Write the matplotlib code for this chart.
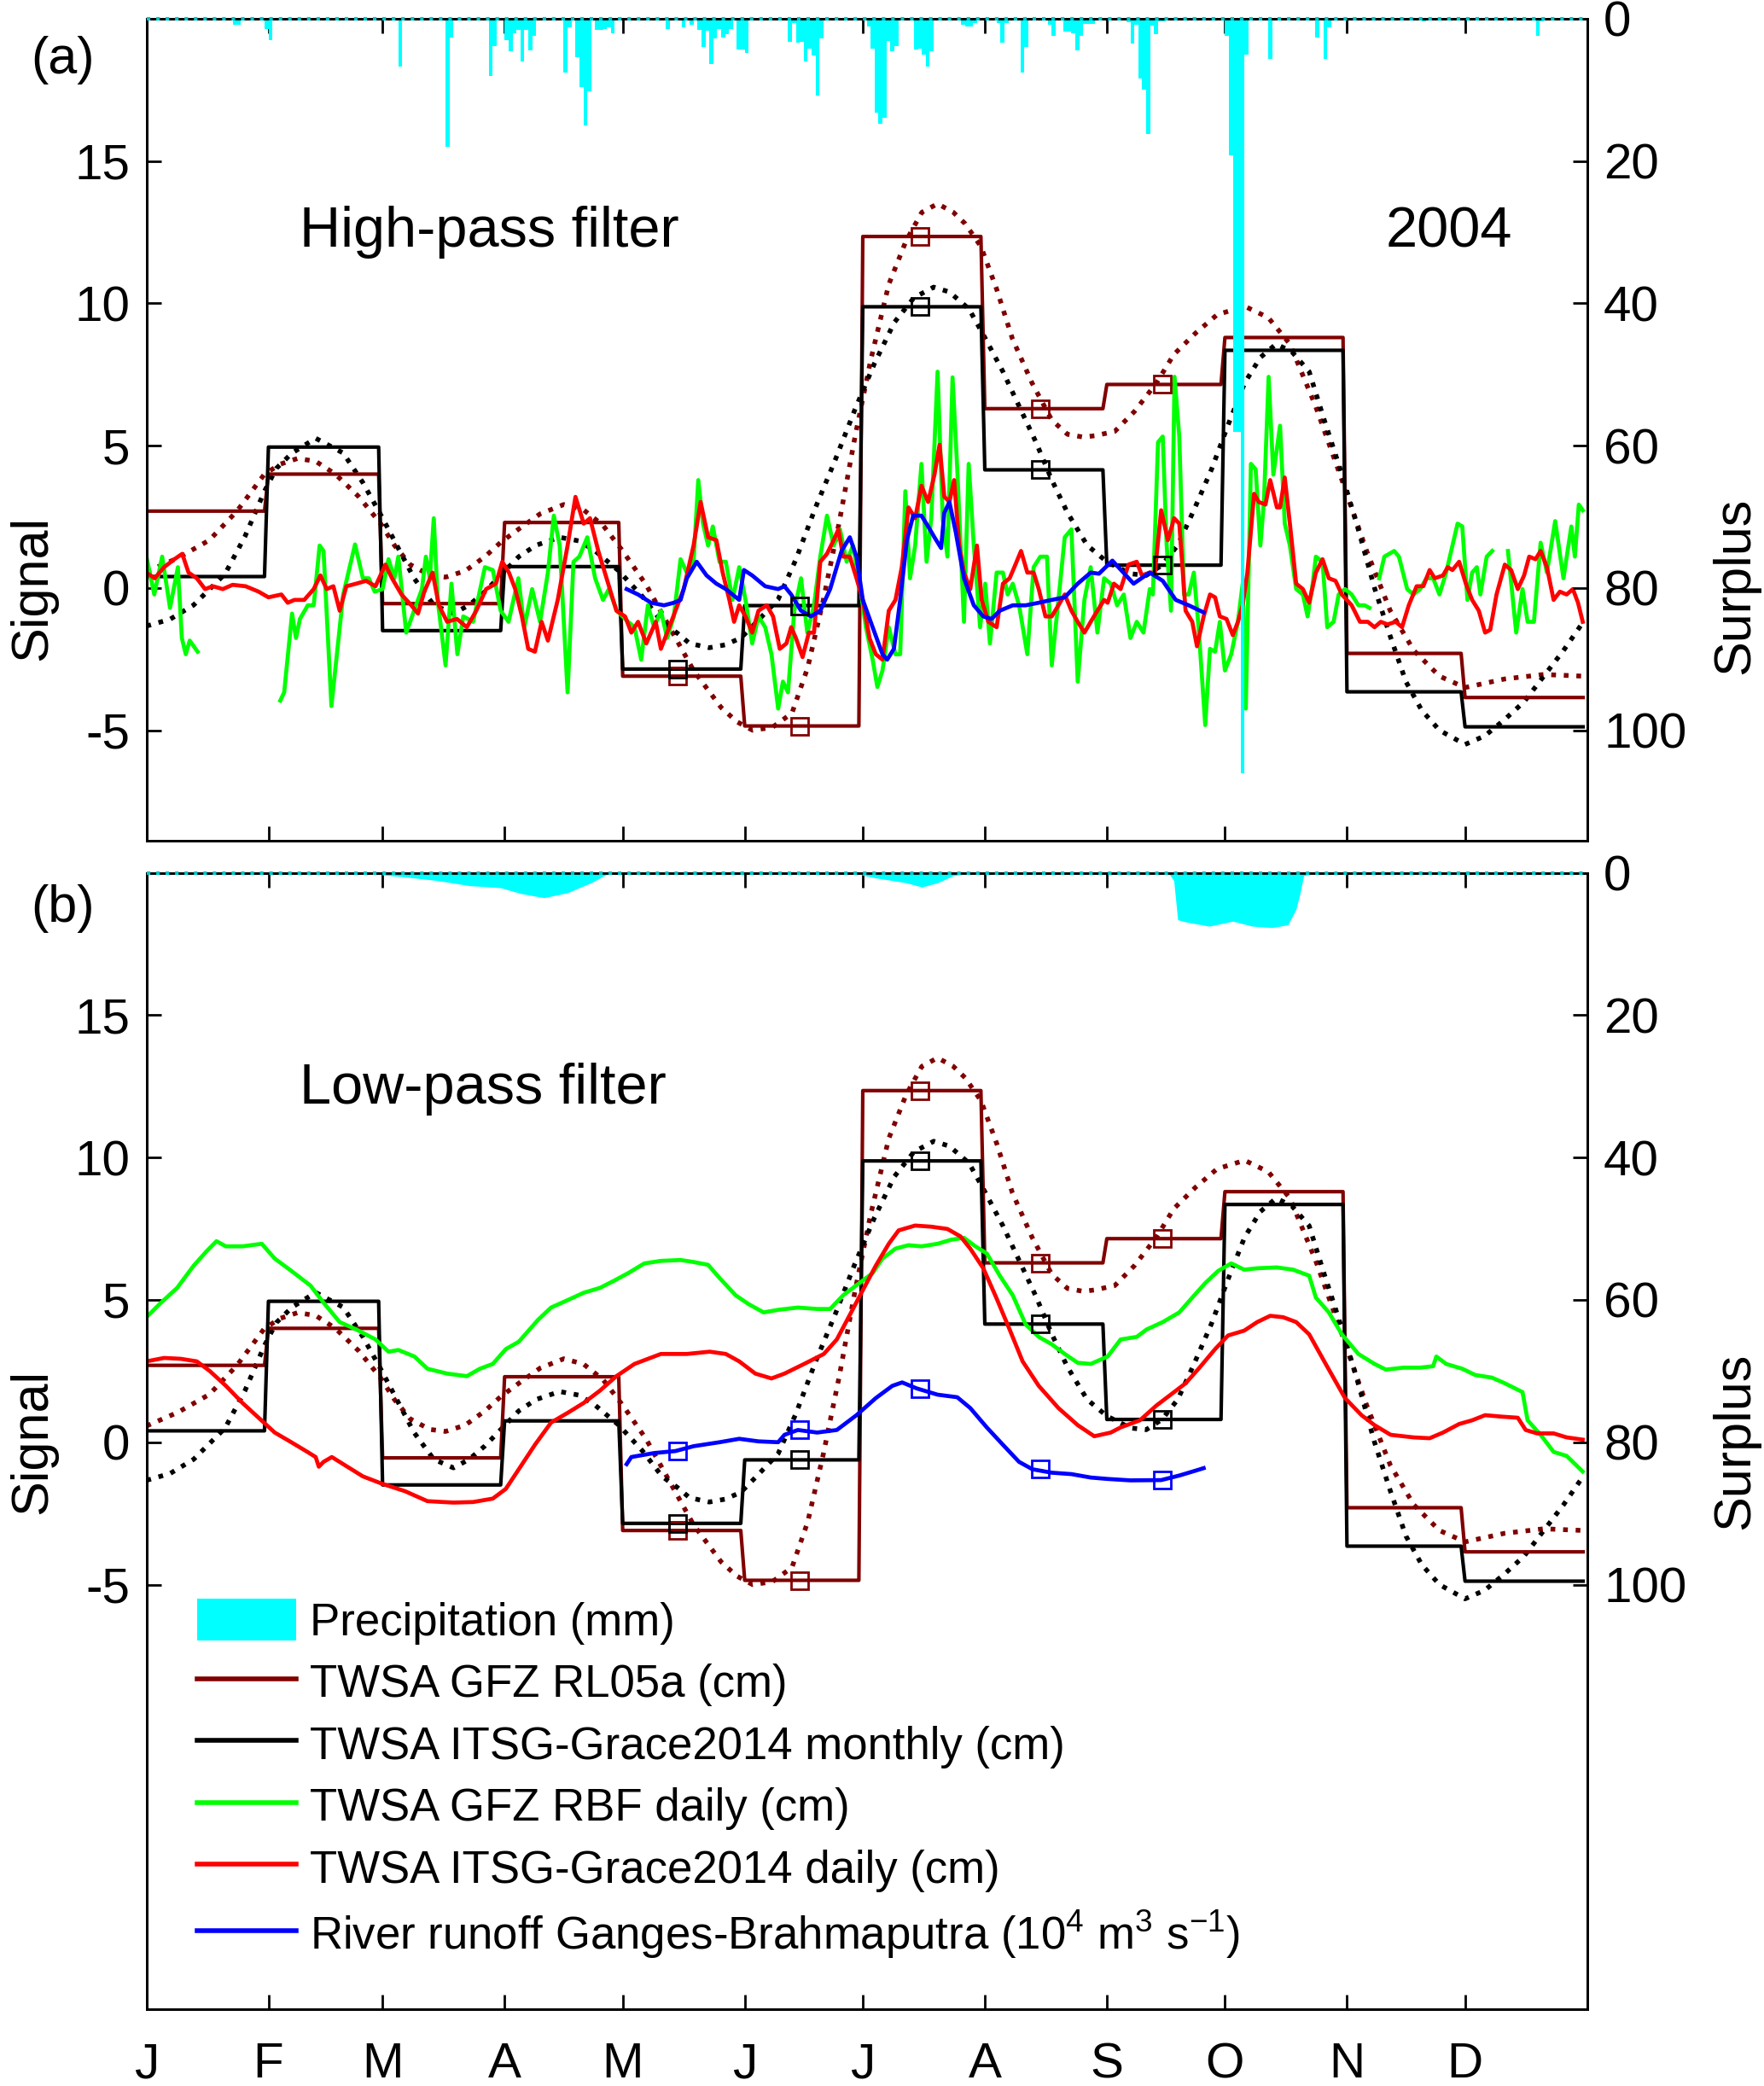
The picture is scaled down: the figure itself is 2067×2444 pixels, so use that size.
import numpy as np
import matplotlib.pyplot as plt
from matplotlib.patches import Patch
from matplotlib.lines import Line2D

plt.rcParams['font.family'] = ['Liberation Sans', 'DejaVu Sans']
plt.rcParams['axes.unicode_minus'] = False
plt.rcParams['mathtext.fontset'] = 'custom'
plt.rcParams['mathtext.rm'] = 'Liberation Sans'

# day of year (2004, leap year)
month_start = [0, 31, 60, 91, 121, 152, 182, 213, 244, 274, 305, 335, 366]
month_labels = ['J', 'F', 'M', 'A', 'M', 'J', 'J', 'A', 'S', 'O', 'N', 'D']

# monthly solutions (cm)
gfz_monthly = [2.7, 4.0, -0.55, 2.3, -3.1, -4.85, 12.35, 6.3, 7.15, 8.8, -2.3, -3.85]
itsg_monthly = [0.4, 4.95, -1.5, 0.75, -2.85, -0.62, 9.88, 4.15, 0.8, 8.35, -3.65, -4.88]

# months with markers (May..Sep) and their mid-month days
marker_months = [4, 5, 6, 7, 8]
marker_days = [135, 166, 196.5, 227, 258]
runoff_monthly = [-0.31, 0.43, 1.89, -0.95, -1.33]

# smooth curves through monthly values
gfz_smooth = [(0, 0.57), (8, 1.05), (16, 1.68), (23, 2.7), (30, 4.0), (34, 4.35), (38.4, 4.55),
              (43, 4.45), (48, 4.0), (54, 3.2), (59.5, 2.26), (63, 1.5), (67, 0.82), (72, 0.45),
              (76, 0.38), (81, 0.6), (86, 1.1), (90, 1.6), (94.6, 2.07), (100, 2.6), (106, 2.93),
              (111, 2.75), (116, 2.2), (121, 1.3), (127, 0.1), (133, -1.4), (139, -2.9),
              (146, -4.2), (150, -4.7), (154, -5.0), (159, -4.9), (164, -4.4), (168, -2.8),
              (172, -0.4), (176, 2.3), (180, 5.3), (184, 8.0), (188.6, 10.67), (193, 12.2),
              (197, 13.2), (201, 13.5), (205, 13.2), (208, 12.8), (212, 12.0), (216, 10.5),
              (220, 8.76), (225, 7.2), (230, 5.9), (234, 5.4), (238, 5.3), (241, 5.35),
              (246, 5.5), (251, 6.2), (256.6, 7.2), (261, 8.2), (266.5, 8.95), (272, 9.6),
              (279, 9.9), (285, 9.5), (290.5, 8.57), (297, 6.4), (303.7, 3.8), (310, 1.3),
              (316, -0.8), (322, -2.2), (328.5, -3.1), (335, -3.5), (345, -3.2), (355, -3.04),
              (365, -3.1)]
itsg_smooth = [(0, -1.34), (6, -1.1), (12, -0.6), (20, 0.5), (25, 1.8), (30, 3.4), (33, 4.2),
               (37, 4.74), (43, 5.26), (50, 4.74), (55, 3.7), (60, 2.45), (68, 0.34), (73, -0.6),
               (78, -0.9), (82, -0.6), (86, -0.13), (94.6, 1.1), (99, 1.5), (105, 1.78),
               (110, 1.65), (114, 1.3), (120, 0.6), (126, -0.3), (131, -1.2), (135, -1.6),
               (138, -1.95), (143, -2.1), (147, -2.0), (151, -1.76), (155, -1.2), (160.5, -0.4),
               (165, 1.0), (170, 2.83), (175, 4.5), (180, 6.27), (185, 7.9), (190, 9.33),
               (195, 10.2), (200, 10.57), (204, 10.4), (209, 9.8), (213, 8.8), (217.6, 7.6),
               (222, 6.3), (226, 5.12), (230, 3.8), (234, 2.64), (239, 1.5), (244, 0.92),
               (250, 0.5), (254, 0.44), (258, 0.8), (262, 1.5), (266, 2.7), (270.6, 4.17),
               (275, 5.8), (279, 7.2), (283, 8.1), (287, 8.57), (291, 8.3), (295.4, 7.6),
               (299, 6.0), (303.7, 4.0), (308, 2.0), (312, 0.0), (316, -1.7), (320, -3.3),
               (324, -4.3), (328.5, -5.0), (335, -5.5), (340, -5.2), (345, -4.63), (350, -4.0),
               (355, -3.1), (360, -2.2), (365, -1.2)]

# high-pass filtered daily series (cm)
green_hp = [(0, 1.1), (2, -0.23), (4, 1.1), (6, -0.7), (8, 0.73), (9, -1.76), (10, -2.33),
            (11, -1.85), (13, -2.24), (np.nan, np.nan),
            (34, -3.96), (35, -3.67), (37, -0.9), (38, -1.76), (39, -1.09), (41, -0.61),
            (42.5, -0.61), (44, 1.49), (45, 1.3), (47, -4.15), (50, -0.23), (53, 1.53),
            (55, 0.34), (56.5, 0.34), (58, -0.13), (60, -0.04), (61.5, 1.01), (63, 0.34),
            (64, 1.1), (66, -1.57), (68, -0.8), (70, -0.04), (71, 1.1), (72, 0.34), (73, 2.45),
            (74, -0.42), (76, -2.72), (77.5, 0.15), (79, -2.33), (80.5, -1.0), (83, -1.19),
            (86, 0.73), (88, 0.63), (90, -0.8), (92, -1.19), (94.5, 0.34), (96, -1.38),
            (98, -0.04), (100, -1.19), (102, 0.54), (103.5, 2.54), (105, 1.49), (107, -3.67),
            (108.5, 0.92), (110, 1.1), (112, 1.78), (114, 0.34), (116, -0.42), (117.5, -0.04),
            (119.5, -0.8), (122.4, -1.19), (124, -1.38), (125.7, -2.52), (127.4, -0.61),
            (129, -1.38), (130.7, -0.8), (132.3, -1.76), (134, -1.0), (135.7, 1.01),
            (137.3, 0.54), (139, 0.92), (140.2, 3.79), (141.4, 2.26), (142.7, 1.49),
            (143.9, 2.16), (145.6, 0.92), (147.2, 0.92), (148.9, -0.42), (150.6, 0.73),
            (152.2, -0.42), (153.9, -1.95), (155.5, -1.0), (157.2, -1.38), (158.8, -2.33),
            (160.5, -4.24), (161.7, -3.29), (163, -3.67), (164.6, -0.8), (166.3, 0.34),
            (167.9, -1.57), (169.6, -0.61), (171.2, 1.1), (172.9, 2.54), (174.6, 1.49),
            (176.2, 2.06), (177.9, 0.92), (179.5, 1.49), (181.2, 0.15), (182.8, -1.38),
            (184.5, -2.52), (185.7, -3.48), (187, -2.9), (188.6, -1.38), (190.3, -2.33),
            (191.5, -2.33), (192.8, 3.4), (194, 0.34), (195.3, 1.49), (196.9, 4.36),
            (198.2, 0.92), (199.4, 2.45), (201, 7.6), (202.3, 2.45), (203.5, 1.1),
            (204.8, 7.4), (206, 4.17), (207.7, -1.19), (208.9, 4.36), (210.2, 1.49),
            (211.8, -1.38), (213.1, 0.15), (214.3, -1.95), (216, 0.54), (217.6, 0.54),
            (218.8, -0.23), (220.1, 0.15), (221.7, -0.61), (223.8, -2.33), (225.4, 0.73),
            (227.1, 1.1), (228.8, 1.1), (230, -2.72), (231.7, -0.42), (233.3, 1.78),
            (235, 2.06), (236.6, -3.29), (238.3, -0.42), (239.9, 0.73), (241.6, -1.57),
            (243.3, 0.34), (245, 0.15), (246.6, -0.61), (248.3, -0.23), (250, -1.76),
            (251.6, -1.19), (253.3, -1.57), (254.9, -0.04), (255.7, -0.23), (257, 5.12),
            (258.2, 5.32), (259.2, 1.49), (260.3, -0.8), (261.2, 7.42), (262.4, 5.32),
            (263.6, -0.23), (264.8, -0.23), (266.1, 0.54), (267.3, -1.38), (269, -4.82),
            (270.2, -2.14), (271.5, -2.24), (272.7, -1.19), (274, -2.9), (275.6, -2.33),
            (277.3, -1.19), (278.5, 0.15), (279.3, -4.24), (280.6, 4.36), (281.8, 4.17),
            (283, 1.49), (283.9, 3.02), (285.1, 7.42), (286.3, 3.98), (288, 5.7),
            (289.2, 2.26), (290.5, 1.49), (292.1, -0.04), (293.8, -0.23), (295, -1.0),
            (296.3, 0.15), (297.1, 1.1), (298.8, 0.92), (300, -1.38), (301.6, -1.19),
            (302.9, -0.23), (304.5, -0.04), (306.2, -0.23), (307.9, -0.61), (309.5, -0.61),
            (310.7, -0.7), (np.nan, np.nan),
            (313.2, 0.34), (314.5, 1.1), (317, 1.3), (318.2, 1.1), (320.3, -0.04),
            (321.9, -0.23), (323.6, -0.04), (325.2, 0.34), (326.9, 0.34), (328.5, -0.23),
            (330.2, 0.54), (331.8, 1.49), (333.1, 2.26), (334.3, 2.16), (335.6, -0.42),
            (336.8, 0.54), (338, 0.73), (338.9, -0.23), (340.5, 1.1), (341.9, 1.3),
            (np.nan, np.nan),
            (345.9, 1.3), (348, -1.57), (349.6, -0.04), (350.9, -1.19), (352.5, -1.19),
            (354.2, 1.59), (355.8, 0.54), (357.9, 2.35), (360, 0.34), (362, 2.16),
            (362.9, 1.1), (363.9, 2.93), (364.9, 2.73)]

red_hp = [(0, 0.54), (2.1, 0.34), (4.5, 0.73), (7, 1.0), (9.1, 1.2), (10.7, 0.54), (12.8, 0.34),
          (14.9, -0.04), (16.9, 0.06), (19.4, -0.04), (21.9, 0.11), (25.2, 0.06), (28.5, -0.13),
          (31, -0.33), (34.3, -0.23), (35.9, -0.52), (37.6, -0.42), (40.1, -0.42), (42.5, -0.04),
          (44.2, 0.44), (45.8, -0.04), (47.5, 0.06), (49.1, -0.8), (50.8, 0.06), (53.3, 0.15),
          (55.8, 0.25), (58.2, 0.06), (60.7, 0.82), (62.4, 0.34), (64.8, -0.23), (67.3, -0.61),
          (69, -0.9), (70.6, -0.13), (72.7, 0.54), (74.3, -0.61), (76.4, -1.19), (78.9, -1.09),
          (81.4, -1.38), (83.8, -0.8), (86.3, -0.04), (88.8, 0.15), (90.4, 0.92), (92.1, 0.54),
          (93.7, -0.04), (95.4, -1.0), (97, -2.14), (98.7, -2.24), (100.4, -1.19), (102, -1.85),
          (104.5, -0.42), (107, 1.49), (109, 3.2), (111.1, 2.26), (112.7, 2.45), (114.8, 1.3),
          (116.9, 0.34), (119.4, -0.8), (121.6, -1.0), (123.2, -1.57), (124.9, -1.19),
          (127, -1.95), (129.4, -1.19), (130.7, -2.14), (132.3, -1.57), (134.4, -0.8),
          (136.5, -0.04), (139, 1.49), (140.8, 3.02), (142.7, 1.78), (144.8, 1.68),
          (146.4, 0.54), (148.1, -0.42), (149.3, -1.19), (150.6, -0.61), (152.2, -1.0),
          (153.9, -1.57), (155.5, -0.8), (157.6, -0.61), (159.2, -1.0), (160.9, -2.14),
          (162.6, -1.95), (163.8, -1.38), (165, -1.76), (166.7, -2.43), (168.3, -1.57),
          (169.6, -1.57), (171.2, 0.92), (172.9, 1.2), (174.6, 1.68), (175.8, 2.06),
          (177, 1.1), (178.7, 1.1), (180.4, 0.34), (182, -0.42), (183.7, -1.76),
          (185.3, -2.33), (187, -2.52), (188.6, -0.8), (190.3, -0.42), (191.9, 0.73),
          (193.6, 2.83), (195.3, 2.45), (196.9, 3.59), (198.6, 3.02), (200.2, 3.98),
          (201.5, 5.03), (202.7, 3.21), (204, 3.02), (205.2, 3.79), (206.5, 1.49),
          (207.7, 0.54), (209.3, -0.04), (211, 1.49), (212.2, -0.42), (213.9, -1.19),
          (216, -1.38), (217.6, 0.15), (219.3, 0.34), (220.5, 0.73), (222.2, 1.3),
          (223.8, 0.54), (225.4, 0.54), (226.7, -0.04), (228.4, -1.0), (230, -1.0),
          (231.7, -0.61), (233.3, -0.23), (235, -0.8), (236.6, -1.19), (238.3, -1.57),
          (239.9, -1.19), (241.6, -0.8), (243.3, -0.42), (244.2, -0.52), (245.8, 0.15),
          (247.5, -0.04), (249.5, 0.82), (251.6, 0.92), (252.9, 0.44), (254.9, 0.54),
          (256.2, 0.54), (257.8, 2.73), (259.5, 1.68), (261.1, 2.45), (262.4, 2.26),
          (264, -0.8), (265.7, -1.19), (266.9, -2.05), (268.6, -1.0), (270.2, -0.23),
          (271.5, -0.33), (272.7, -1.0), (274.4, -1.09), (276, -1.66), (277.3, -1.19),
          (278.5, -0.61), (279.7, 0.54), (281.4, 3.31), (282.6, 3.02), (284.3, 2.93),
          (285.5, 3.79), (287.2, 2.83), (288, 2.83), (289.2, 3.88), (290.5, 2.26),
          (292.1, 0.15), (293.8, -0.04), (295.4, -0.52), (297.1, 0.54), (298.8, 1.01),
          (300.4, 0.34), (302.1, 0.25), (303.7, -0.23), (306.2, -0.61), (308.3, -1.19),
          (310.3, -1.19), (312, -1.38), (313.6, -1.19), (315.3, -1.28), (317.4, -1.19),
          (319, -1.38), (320.7, -0.61), (322.7, 0.06), (324.4, 0.06), (326, 0.63),
          (327.3, 0.34), (329.4, 0.44), (330.6, 0.73), (331.8, 0.63), (333.5, 0.92),
          (335.2, 0.15), (336.8, -0.42), (338.5, -0.8), (340.1, -1.57), (341.4, -1.47),
          (343, -0.23), (345.1, 0.82), (346.7, 0.63), (348.4, -0.04), (350, 0.44),
          (351.3, 1.1), (352.9, 1.01), (354.2, 1.3), (355.8, 0.73), (357.5, -0.42),
          (359.1, -0.13), (360.8, -0.23), (362.4, -0.04), (363.7, -0.52), (364.9, -1.19)]

blue_hp = [(122, -0.04), (124.9, -0.23), (128.2, -0.52), (131.5, -0.61), (134, -0.52),
           (135.7, -0.42), (137.3, 0.34), (139.8, 0.92), (142.3, 0.44), (144.8, 0.15),
           (147.2, -0.04), (150.6, -0.42), (151.8, 0.63), (153.9, 0.44), (157.2, 0.06),
           (160.5, -0.04), (162.1, 0.06), (163.8, -0.23), (166.3, -0.8), (168.8, -1.0),
           (171.2, -0.8), (173.7, -0.04), (176.6, 1.3), (178.7, 1.78), (180.4, 1.1),
           (182, -0.42), (184.5, -1.38), (187, -2.33), (188.2, -2.52), (189.9, -2.14),
           (191.5, -0.42), (193.2, 1.68), (194.8, 2.54), (196.9, 2.54), (198.6, 2.16),
           (200.2, 1.78), (201.9, 1.4), (202.7, 2.64), (204, 3.02), (205.6, 1.97),
           (207.7, 0.34), (210.2, -0.61), (212.6, -1.0), (214.7, -1.09), (216.8, -0.8),
           (220.1, -0.61), (223.4, -0.61), (226.7, -0.52), (230, -0.42), (233.3, -0.33),
           (236.6, 0.15), (239.9, 0.54), (242, 0.5), (245.4, 0.96), (250.8, 0.15),
           (254.9, 0.54), (258.2, 0.25), (261.5, -0.42), (264.8, -0.61), (268.6, -0.86)]

# low-pass filtered daily series (cm)
green_lp = [(0, 4.39), (3.7, 4.9), (7.8, 5.42), (12, 6.2), (15.3, 6.71), (17.8, 7.06),
            (20.2, 6.88), (24.4, 6.88), (29.3, 6.97), (32.6, 6.45), (36.8, 6.02), (41.7, 5.5),
            (45, 4.9), (49.1, 4.22), (53.3, 3.96), (58.2, 3.61), (61.5, 3.18), (64, 3.24),
            (68.1, 3.01), (71.4, 2.58), (76.4, 2.41), (81.4, 2.32), (84.7, 2.58), (88, 2.75),
            (91.3, 3.27), (94.6, 3.53), (99.5, 4.3), (102.8, 4.73), (107, 4.99), (111.1, 5.25),
            (115.2, 5.42), (118.5, 5.65), (122.4, 5.94), (126.5, 6.28), (130.7, 6.37),
            (135.7, 6.4), (139, 6.33), (142.7, 6.23), (145.6, 5.77), (149.7, 5.16), (153, 4.85),
            (156.8, 4.56), (160.5, 4.65), (165.5, 4.73), (170.4, 4.68), (173.7, 4.68),
            (177, 5.16), (179.5, 5.42), (182, 5.68), (184.5, 5.94), (187, 6.45), (190.3, 6.8),
            (193.6, 6.92), (196.9, 6.88), (201, 6.97), (204.4, 7.11), (207.7, 7.18),
            (210.6, 6.88), (213.5, 6.63), (216.8, 5.85), (220.1, 5.16), (223.4, 4.13),
            (226.7, 3.7), (230, 3.44), (233.3, 3.1), (236.6, 2.79), (239.9, 2.75),
            (244.2, 3.01), (247.5, 3.61), (251.6, 3.7), (254.1, 3.96), (258.2, 4.22),
            (262.4, 4.56), (265.7, 5.08), (269, 5.59), (272.3, 6.02), (275.6, 6.28),
            (278.9, 6.06), (282.2, 6.11), (287.2, 6.14), (291.3, 6.06), (295.4, 5.85),
            (297.1, 5.08), (300.4, 4.56), (303.7, 3.79), (307.9, 3.1), (312, 2.75),
            (314.9, 2.55), (319.4, 2.62), (323.6, 2.62), (326.9, 2.67), (327.7, 3.01),
            (330.2, 2.75), (334.3, 2.58), (337.6, 2.36), (341.8, 2.27), (345.1, 2.07),
            (349.6, 1.76), (350.9, 0.77), (354.2, 0.26), (357.5, -0.34), (360.8, -0.48),
            (364.9, -1.03)]

red_lp = [(0, 2.84), (4.5, 2.96), (8.7, 2.93), (12.8, 2.84), (16.1, 2.5), (20.2, 1.98),
          (24.4, 1.38), (28.5, 0.86), (32.6, 0.34), (36.8, 0.0), (40.9, -0.34), (43, -0.52),
          (43.8, -0.86), (45, -0.69), (47.1, -0.52), (50, -0.77), (55, -1.2), (59.9, -1.46),
          (65.7, -1.72), (71.4, -2.07), (78, -2.12), (83, -2.1), (88, -1.98), (91.3, -1.64),
          (94.6, -0.95), (98.7, -0.09), (102.8, 0.69), (107, 1.03), (111.1, 1.38),
          (115.2, 1.81), (119.4, 2.32), (124, 2.75), (130.7, 3.1), (137.3, 3.1),
          (143.1, 3.18), (147.2, 3.1), (150.6, 2.84), (154.7, 2.41), (158.8, 2.24),
          (162.1, 2.41), (167.1, 2.75), (172.1, 3.1), (175.4, 3.61), (178.7, 4.47),
          (182, 5.34), (185.3, 6.2), (188.6, 6.97), (191.1, 7.44), (195.3, 7.61),
          (199.4, 7.57), (203.5, 7.49), (206.8, 7.23), (209.3, 6.8), (212.6, 6.11),
          (215.9, 5.08), (219.3, 3.96), (222.6, 2.84), (226.7, 1.98), (231.7, 1.2),
          (236.6, 0.6), (240.8, 0.21), (245, 0.34), (247.5, 0.52), (252.4, 0.77),
          (256.6, 1.29), (260.7, 1.72), (264, 2.07), (267.3, 2.58), (271.5, 3.27),
          (274.8, 3.75), (278.9, 3.92), (282.2, 4.22), (285.5, 4.44), (288.8, 4.39),
          (292.1, 4.22), (295.4, 3.79), (299.6, 2.75), (304.5, 1.55), (308.7, 0.95),
          (312, 0.6), (316.1, 0.26), (321.9, 0.17), (326, 0.14), (329.4, 0.34),
          (333.5, 0.64), (336.8, 0.77), (340.1, 0.95), (344.2, 0.9), (348.4, 0.86),
          (350.4, 0.43), (353.3, 0.31), (357.5, 0.31), (360.8, 0.17), (364.9, 0.09)]

blue_lp = [(122, -0.77), (123.2, -0.52), (129, -0.38), (134.4, -0.31), (139, -0.14),
           (145.6, 0.0), (150.6, 0.12), (155.5, 0.03), (160.5, 0.0), (162.1, 0.26),
           (165.5, 0.43), (170.4, 0.34), (175.4, 0.43), (180.4, 0.95), (185.3, 1.55),
           (189.5, 1.98), (192, 2.1), (195.7, 1.89), (201, 1.67), (206, 1.58), (209.3, 1.2),
           (213.5, 0.52), (217.6, -0.09), (221.7, -0.69), (225.1, -0.95), (230, -1.07),
           (235, -1.12), (239.9, -1.24), (244.2, -1.29), (250, -1.34), (257.8, -1.33),
           (262.4, -1.17), (266.5, -1.0), (268.6, -0.91)]

# daily precipitation (mm), panel a
precip_days = [22, 23, 30, 31, 49, 50, 64, 76, 77, 87, 88, 91, 92, 93, 94, 95, 96, 97, 98,
               106, 107, 109, 110, 111, 112, 114, 115, 116, 117, 118, 132, 136, 138,
               140, 141, 142, 143, 144, 145, 146, 147, 148, 150, 151, 152,
               163, 164, 165, 166, 167, 168, 169, 170, 171,
               183, 184, 185, 186, 187, 188, 189, 190, 195, 196, 197, 198, 199,
               207, 208, 209, 210, 216, 217, 218, 222, 223, 229, 230,
               233, 234, 235, 236, 237, 238, 239, 240,
               249, 250, 251, 252, 253, 254, 255, 256, 257, 258,
               274, 275, 276, 277, 278, 279, 285, 297, 298, 299, 300, 324, 330, 353, 354]
precip_mm = [0.8, 0.8, 1.4, 3.0, 0.3, 0.3, 6.7, 18.0, 2.6, 8.0, 3.8, 3.0, 4.5, 2.0, 1.5, 6.0,
             1.6, 4.4, 2.4, 7.5, 1.2, 5.4, 9.6, 15.0, 10.2, 1.6, 1.6, 1.4, 1.2, 2.0, 1.4, 1.2,
             0.8, 1.6, 4.0, 1.7, 6.3, 2.8, 1.4, 2.6, 2.2, 1.4, 4.3, 4.3, 4.8,
             3.2, 0.6, 3.4, 3.2, 6.0, 4.2, 5.2, 10.8, 2.7,
             1.1, 4.2, 13.2, 14.8, 13.9, 3.1, 4.6, 3.8, 4.3, 4.2, 5.0, 6.7, 4.6,
             0.9, 1.1, 1.1, 0.6, 0.6, 3.4, 0.6, 7.6, 3.9, 0.8, 2.4,
             1.8, 1.8, 2.0, 4.4, 2.4, 0.7, 0.7, 0.7,
             0.5, 3.5, 0.8, 8.4, 10.0, 16.2, 1.0, 2.2, 0.4, 0.4,
             2.4, 19.2, 58.0, 58.0, 106.0, 5.0, 5.6, 2.6, 0.2, 5.6, 1.2, 0.4, 0.2, 2.4, 0.4]

# low-pass precipitation (mm), panel b
precip_lp_days = [0, 59, 60, 66, 74, 82, 90, 95, 101, 107, 113, 117, 118, 179, 181, 185, 193,
                  197, 201, 205, 210, 259, 260, 261, 262, 264, 270, 276, 281, 286, 290, 292,
                  293, 294, 298, 366]
precip_lp_mm = [0, 0, 0.3, 0.6, 1.1, 1.8, 2.1, 2.9, 3.5, 2.8, 1.4, 0.2, 0, 0, 0.2, 0.7, 1.4,
                2.0, 1.4, 0.4, 0, 0, 0.3, 1.1, 6.6, 6.9, 7.5, 6.8, 7.5, 7.7, 7.3, 5.2, 3.1,
                0.4, 0, 0]

c_gfz = '#800000'
c_itsg = 'black'
c_green = '#00FF00'
c_red = '#FF0000'
c_blue = '#0000FF'
c_cyan = '#00FFFF'


def xy(pairs):
    a = np.array(pairs, dtype=float)
    return a[:, 0], a[:, 1]


def step_xy(values):
    xs, ys = [], []
    for s, e, v in zip(month_start[:-1], month_start[1:], values):
        xs += [s, e - 1]
        ys += [v, v]
    return xs, ys


def draw_monthly(ax):
    ax.plot(*xy(gfz_smooth), ':', color=c_gfz, lw=2.0)
    ax.plot(*xy(itsg_smooth), ':', color=c_itsg, lw=2.0)
    ax.plot(*step_xy(gfz_monthly), '-', color=c_gfz, lw=1.5)
    ax.plot(*step_xy(itsg_monthly), '-', color=c_itsg, lw=1.5)


def draw_markers(ax, with_runoff):
    ax.plot(marker_days, [gfz_monthly[m] for m in marker_months], 's', ms=7, mfc='none',
            mec=c_gfz, mew=1.0, zorder=5)
    ax.plot(marker_days, [itsg_monthly[m] for m in marker_months], 's', ms=7, mfc='none',
            mec=c_itsg, mew=1.0, zorder=5)
    if with_runoff:
        ax.plot(marker_days, runoff_monthly, 's', ms=7, mfc='none', mec=c_blue, mew=1.0,
                zorder=5)


def style_axes(ax, ax2, ymin, rmax, show_xlabels):
    ax.set_xlim(0, 366)
    ax.set_ylim(ymin, 20)
    ax.set_yticks([-5, 0, 5, 10, 15])
    ax.set_xticks(month_start[:-1])
    if show_xlabels:
        ax.set_xticklabels(month_labels)
    else:
        ax.set_xticklabels([])
    ax.tick_params(axis='both', direction='in', length=6, width=1, top=True, labelsize=21)
    ax.tick_params(axis='y', pad=7)
    ax.tick_params(axis='x', pad=14)
    ax2.set_ylim(rmax, 0)
    ax2.set_yticks([0, 20, 40, 60, 80, 100])
    ax2.tick_params(axis='y', direction='in', length=6, width=1, labelsize=21, pad=7)
    for a in (ax, ax2):
        for sp in a.spines.values():
            sp.set_linewidth(1.0)
    ax2.axhline(0, color='#00C8C8', ls=':', lw=1.5, zorder=6, clip_on=False)


fig = plt.figure(figsize=(10.335, 12.22), dpi=200)
ax_a = fig.add_axes([0.083, 0.597, 0.8167, 0.394])
ax_b = fig.add_axes([0.083, 0.037, 0.8167, 0.5446])

# panel (a): high-pass
draw_monthly(ax_a)
ax_a.plot(*xy(green_hp), color=c_green, lw=1.7)
ax_a.plot(*xy(red_hp), color=c_red, lw=1.7)
ax_a.plot(*xy(blue_hp), color=c_blue, lw=1.7)
draw_markers(ax_a, False)
ax_a.text(39, 12.5, 'High-pass filter', fontsize=24, va='center', ha='left')
ax_a.text(347, 12.5, '2004', fontsize=24, va='center', ha='right')
ax2_a = ax_a.twinx()
ax2_a.bar(precip_days, precip_mm, width=1.0, align='edge', color=c_cyan, linewidth=0)
style_axes(ax_a, ax2_a, -8.88, 115.5, False)

# panel (b): low-pass
draw_monthly(ax_b)
ax_b.plot(*xy(green_lp), color=c_green, lw=1.7)
ax_b.plot(*xy(red_lp), color=c_red, lw=1.7)
ax_b.plot(*xy(blue_lp), color=c_blue, lw=1.7)
draw_markers(ax_b, True)
ax_b.text(39, 12.4, 'Low-pass filter', fontsize=24, va='center', ha='left')
ax2_b = ax_b.twinx()
ax2_b.fill_between(precip_lp_days, 0, precip_lp_mm, color=c_cyan, linewidth=0)
style_axes(ax_b, ax2_b, -19.9, 159.6, True)

handles = [Patch(facecolor=c_cyan, edgecolor='none'),
           Line2D([], [], color=c_gfz, lw=2),
           Line2D([], [], color=c_itsg, lw=2),
           Line2D([], [], color=c_green, lw=2),
           Line2D([], [], color=c_red, lw=2),
           Line2D([], [], color=c_blue, lw=2)]
labels = ['Precipitation (mm)', 'TWSA GFZ RL05a (cm)', 'TWSA ITSG-Grace2014 monthly (cm)',
          'TWSA GFZ RBF daily (cm)', 'TWSA ITSG-Grace2014 daily (cm)',
          r'River runoff Ganges-Brahmaputra (10$\mathregular{^4}$ m$\mathregular{^3}$ '
          r's$\mathregular{^{-1}}$)']
ax2_b.legend(handles, labels, loc='upper left', bbox_to_anchor=(0.035, 0.361),
             frameon=False, fontsize=19, handlelength=2.2, handleheight=1.05,
             handletextpad=0.3, labelspacing=0.36, borderpad=0, borderaxespad=0)

fig.text(0.0189, 0.718, 'Signal', rotation=90, fontsize=22, ha='center', va='center')
fig.text(0.0189, 0.309, 'Signal', rotation=90, fontsize=22, ha='center', va='center')
fig.text(0.984, 0.719, 'Surplus', rotation=90, fontsize=22, ha='center', va='center')
fig.text(0.984, 0.309, 'Surplus', rotation=90, fontsize=22, ha='center', va='center')
fig.text(0.0354, 0.971, '(a)', fontsize=22, ha='center', va='center')
fig.text(0.0354, 0.5644, '(b)', fontsize=22, ha='center', va='center')

fig.savefig('out.png', dpi=200)
